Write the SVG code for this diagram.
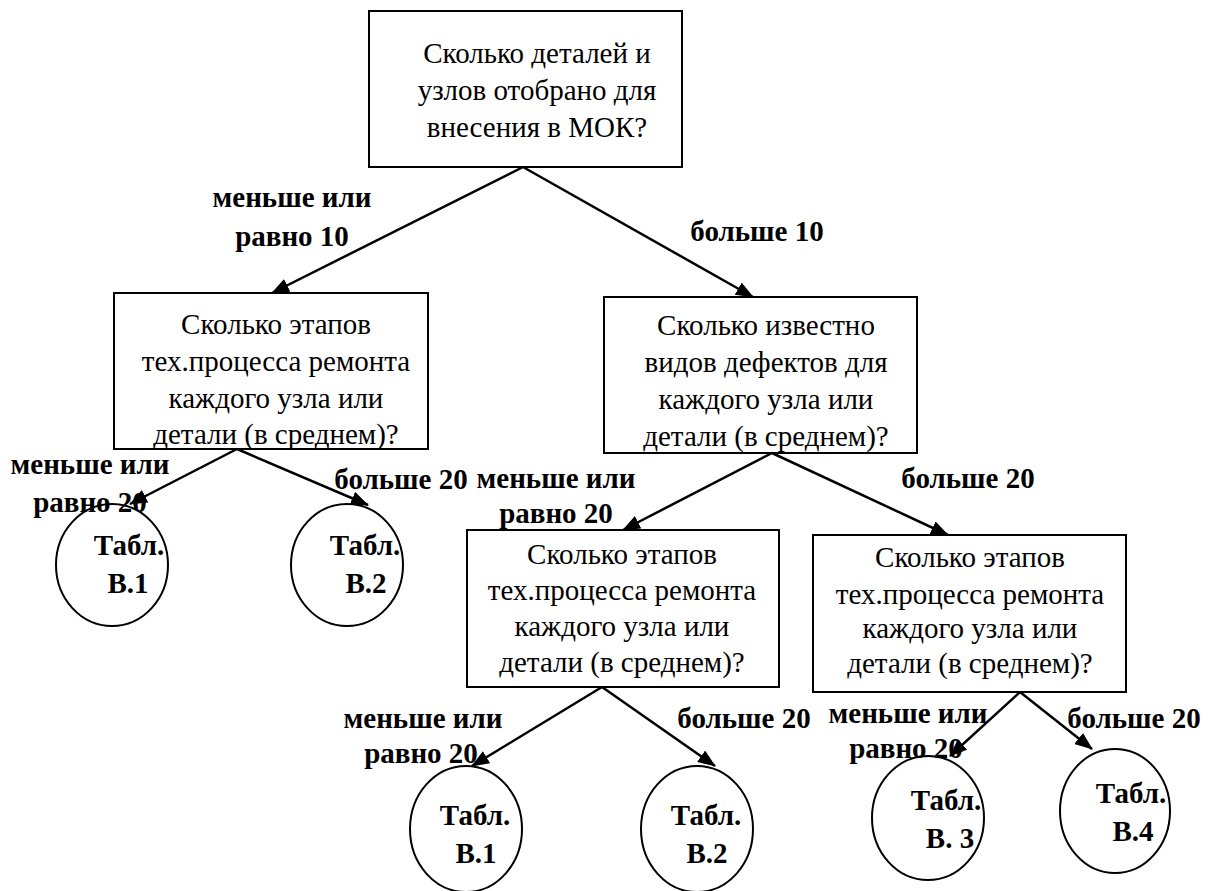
<svg xmlns="http://www.w3.org/2000/svg" width="1208" height="891" viewBox="0 0 1208 891">
<style>
.box{fill:#fff;stroke:#000;stroke-width:2}
.circ{fill:#fff;stroke:#000;stroke-width:2}
.c{stroke:#000;stroke-width:2.5;fill:none;marker-end:url(#ah)}
</style>
<defs>
<marker id="ah" markerUnits="userSpaceOnUse" markerWidth="18" markerHeight="14" refX="17" refY="7" orient="auto">
<path d="M0,0 L18,7 L0,14 z" fill="#000"/>
</marker>
</defs>
<rect width="1208" height="891" fill="#fff"/>
<g id="n-top">
<rect class="box" x="369" y="11" width="313" height="156"/>
<text x="537" y="63" style="font-family:'Liberation Serif',serif;font-size:29px;text-anchor:middle">Сколько деталей и</text>
<text x="537" y="100" style="font-family:'Liberation Serif',serif;font-size:29px;text-anchor:middle">узлов отобрано для</text>
<text x="537" y="137" style="font-family:'Liberation Serif',serif;font-size:29px;text-anchor:middle">внесения в МОК?</text>
</g>
<g id="n-left">
<rect class="box" x="114" y="293" width="314" height="156"/>
<text x="276" y="334" style="font-family:'Liberation Serif',serif;font-size:29px;text-anchor:middle">Сколько этапов</text>
<text x="276" y="371" style="font-family:'Liberation Serif',serif;font-size:29px;text-anchor:middle">тех.процесса ремонта</text>
<text x="276" y="408" style="font-family:'Liberation Serif',serif;font-size:29px;text-anchor:middle">каждого узла или</text>
<text x="276" y="444" style="font-family:'Liberation Serif',serif;font-size:29px;text-anchor:middle">детали (в среднем)?</text>
</g>
<g id="n-right">
<rect class="box" x="604" y="297" width="313" height="156"/>
<text x="766" y="335" style="font-family:'Liberation Serif',serif;font-size:29px;text-anchor:middle">Сколько известно</text>
<text x="766" y="372" style="font-family:'Liberation Serif',serif;font-size:29px;text-anchor:middle">видов дефектов для</text>
<text x="766" y="409" style="font-family:'Liberation Serif',serif;font-size:29px;text-anchor:middle">каждого узла или</text>
<text x="766" y="446" style="font-family:'Liberation Serif',serif;font-size:29px;text-anchor:middle">детали (в среднем)?</text>
</g>
<g id="n-ll">
<rect class="box" x="467" y="530" width="312" height="157"/>
<text x="622" y="564" style="font-family:'Liberation Serif',serif;font-size:29px;text-anchor:middle">Сколько этапов</text>
<text x="622" y="600" style="font-family:'Liberation Serif',serif;font-size:29px;text-anchor:middle">тех.процесса ремонта</text>
<text x="622" y="636" style="font-family:'Liberation Serif',serif;font-size:29px;text-anchor:middle">каждого узла или</text>
<text x="622" y="672" style="font-family:'Liberation Serif',serif;font-size:29px;text-anchor:middle">детали (в среднем)?</text>
</g>
<g id="n-lr">
<rect class="box" x="813" y="535" width="313" height="157"/>
<text x="970" y="567" style="font-family:'Liberation Serif',serif;font-size:29px;text-anchor:middle">Сколько этапов</text>
<text x="970" y="604" style="font-family:'Liberation Serif',serif;font-size:29px;text-anchor:middle">тех.процесса ремонта</text>
<text x="970" y="638" style="font-family:'Liberation Serif',serif;font-size:29px;text-anchor:middle">каждого узла или</text>
<text x="970" y="673" style="font-family:'Liberation Serif',serif;font-size:29px;text-anchor:middle">детали (в среднем)?</text>
</g>
<g id="n-t1a">
<ellipse class="circ" cx="112" cy="565" rx="56" ry="61"/>
<text x="129" y="555" style="font-family:'Liberation Serif',serif;font-size:29px;font-weight:bold;text-anchor:middle">Табл.</text>
<text x="128" y="593" style="font-family:'Liberation Serif',serif;font-size:29px;font-weight:bold;text-anchor:middle">В.1</text>
</g>
<g id="n-t2a">
<ellipse class="circ" cx="347" cy="565" rx="56" ry="61"/>
<text x="365" y="555" style="font-family:'Liberation Serif',serif;font-size:29px;font-weight:bold;text-anchor:middle">Табл.</text>
<text x="366" y="593" style="font-family:'Liberation Serif',serif;font-size:29px;font-weight:bold;text-anchor:middle">В.2</text>
</g>
<g id="n-t1b">
<ellipse class="circ" cx="466" cy="829" rx="56" ry="63"/>
<text x="475" y="825" style="font-family:'Liberation Serif',serif;font-size:29px;font-weight:bold;text-anchor:middle">Табл.</text>
<text x="476" y="863" style="font-family:'Liberation Serif',serif;font-size:29px;font-weight:bold;text-anchor:middle">В.1</text>
</g>
<g id="n-t2b">
<ellipse class="circ" cx="697" cy="829" rx="56" ry="63"/>
<text x="706" y="825" style="font-family:'Liberation Serif',serif;font-size:29px;font-weight:bold;text-anchor:middle">Табл.</text>
<text x="707" y="863" style="font-family:'Liberation Serif',serif;font-size:29px;font-weight:bold;text-anchor:middle">В.2</text>
</g>
<g id="n-t3">
<ellipse class="circ" cx="928" cy="818" rx="56" ry="62"/>
<text x="946" y="810" style="font-family:'Liberation Serif',serif;font-size:29px;font-weight:bold;text-anchor:middle">Табл.</text>
<text x="950" y="848" style="font-family:'Liberation Serif',serif;font-size:29px;font-weight:bold;text-anchor:middle">В. 3</text>
</g>
<g id="n-t4">
<ellipse class="circ" cx="1115" cy="811" rx="55" ry="62"/>
<text x="1131" y="803" style="font-family:'Liberation Serif',serif;font-size:29px;font-weight:bold;text-anchor:middle">Табл.</text>
<text x="1133" y="841" style="font-family:'Liberation Serif',serif;font-size:29px;font-weight:bold;text-anchor:middle">В.4</text>
</g>
<g id="connectors">
<line class="c" x1="523" y1="167" x2="272" y2="293"/>
<line class="c" x1="523" y1="167" x2="753" y2="297"/>
<line class="c" x1="237" y1="449" x2="130" y2="504"/>
<line class="c" x1="237" y1="449" x2="368" y2="505"/>
<line class="c" x1="772" y1="453" x2="623" y2="530"/>
<line class="c" x1="772" y1="453" x2="948" y2="535"/>
<line class="c" x1="602" y1="687" x2="472" y2="766"/>
<line class="c" x1="602" y1="687" x2="715" y2="766"/>
<line class="c" x1="1020" y1="692" x2="950" y2="756"/>
<line class="c" x1="1020" y1="692" x2="1092" y2="749"/>
</g>
<g id="labels">
<text x="292" y="207" style="font-family:'Liberation Serif',serif;font-size:29px;font-weight:bold;text-anchor:middle">меньше или</text>
<text x="292" y="246" style="font-family:'Liberation Serif',serif;font-size:29px;font-weight:bold;text-anchor:middle">равно 10</text>
<text x="757" y="241" style="font-family:'Liberation Serif',serif;font-size:29px;font-weight:bold;text-anchor:middle">больше 10</text>
<text x="90" y="474" style="font-family:'Liberation Serif',serif;font-size:29px;font-weight:bold;text-anchor:middle">меньше или</text>
<text x="90" y="512" style="font-family:'Liberation Serif',serif;font-size:29px;font-weight:bold;text-anchor:middle">равно 20</text>
<text x="401" y="489" style="font-family:'Liberation Serif',serif;font-size:29px;font-weight:bold;text-anchor:middle">больше 20</text>
<text x="556" y="488" style="font-family:'Liberation Serif',serif;font-size:29px;font-weight:bold;text-anchor:middle">меньше или</text>
<text x="556" y="523" style="font-family:'Liberation Serif',serif;font-size:29px;font-weight:bold;text-anchor:middle">равно 20</text>
<text x="968" y="488" style="font-family:'Liberation Serif',serif;font-size:29px;font-weight:bold;text-anchor:middle">больше 20</text>
<text x="423" y="728" style="font-family:'Liberation Serif',serif;font-size:29px;font-weight:bold;text-anchor:middle">меньше или</text>
<text x="421" y="763" style="font-family:'Liberation Serif',serif;font-size:29px;font-weight:bold;text-anchor:middle">равно 20</text>
<text x="744" y="728" style="font-family:'Liberation Serif',serif;font-size:29px;font-weight:bold;text-anchor:middle">больше 20</text>
<text x="908" y="723" style="font-family:'Liberation Serif',serif;font-size:29px;font-weight:bold;text-anchor:middle">меньше или</text>
<text x="906" y="758" style="font-family:'Liberation Serif',serif;font-size:29px;font-weight:bold;text-anchor:middle">равно 20</text>
<text x="1134" y="728" style="font-family:'Liberation Serif',serif;font-size:29px;font-weight:bold;text-anchor:middle">больше 20</text>
</g>
</svg>
